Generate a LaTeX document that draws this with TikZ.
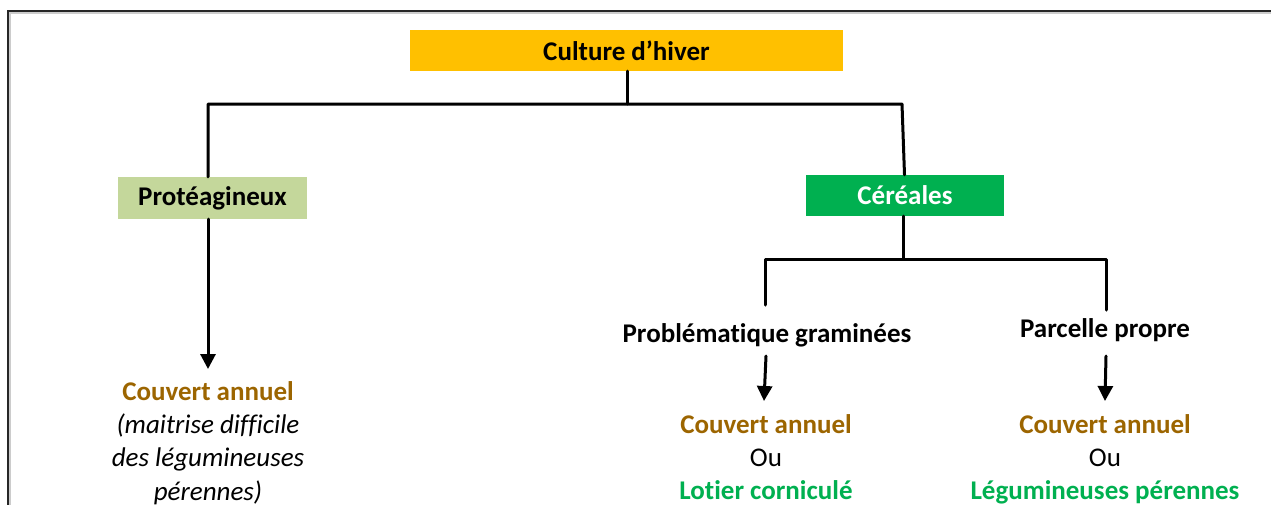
\documentclass[tikz,border=0pt]{standalone}
\usepackage{fontspec}
\setmainfont[Ligatures=NoCommon]{Carlito}
\usetikzlibrary{arrows.meta}
\definecolor{orangebox}{RGB}{255,192,0}
\definecolor{lightgreen}{RGB}{196,215,155}
\definecolor{darkgreen}{RGB}{0,176,80}
\definecolor{brown}{RGB}{156,101,0}
\tikzset{
  conn/.style={line width=3pt, line cap=round, line join=round},
  arr/.style={conn, -{Triangle[length=15pt,width=15pt]}},
  boxnode/.style={inner sep=0pt, font=\fontsize{27}{33.3}\selectfont\bfseries},
  txt/.style={inner sep=0pt, align=center, font=\fontsize{27}{33.3}\selectfont},
}
\begin{document}
\begin{tikzpicture}[x=1pt,y=-1pt]
\useasboundingbox (0,0) rectangle (1271,504);
% frame with light shadow
\draw[gray!40, line width=2pt] (10,506) -- (10,13) -- (1273,13);
\draw[black!85, line width=2pt] (8,506) -- (8,10.5) -- (1273,10.5);

% boxes
\node[boxnode, fill=orangebox, minimum width=433pt, minimum height=41pt] (top) at (626.5,50.5) {Culture d’hiver};
\node[boxnode, fill=lightgreen, minimum width=189pt, minimum height=42pt] (prot) at (212.5,198) {Protéagineux};
\node[boxnode, fill=darkgreen, text=white, minimum width=198pt, minimum height=41pt] (cer) at (905,195.5) {Céréales};

% second level texts
\node[txt, font=\fontsize{27}{33.3}\selectfont\bfseries, anchor=base] (pg) at (767,342) {Problématique graminées};
\node[txt, font=\fontsize{27}{33.3}\selectfont\bfseries, anchor=base] (pp) at (1105,337) {Parcelle propre};

% results
\node[txt, anchor=north] (resL) at (208,381) {\textbf{\textcolor{brown}{Couvert annuel}}\\\textit{(maitrise difficile}\\\textit{des légumineuses}\\\textit{pérennes)}};
\node[txt, anchor=north] (resM) at (766,414) {\textbf{\textcolor{brown}{Couvert annuel}}\\Ou\\\textbf{\textcolor{darkgreen}{Lotier corniculé}}};
\node[txt, anchor=north] (resR) at (1105,414) {\textbf{\textcolor{brown}{Couvert annuel}}\\Ou\\\textbf{\textcolor{darkgreen}{Légumineuses pérennes}}};

% junction coordinates
\coordinate (t1) at (627,104);
\coordinate (hl) at (208,104);
\coordinate (hr) at (902,104);
\coordinate (c1) at (903,259);
\coordinate (cl) at (765,259);
\coordinate (cr) at (1106,259);
\coordinate (pgtop) at (765,305);
\coordinate (pptop) at (1106,310);
\coordinate (pgbot) at (766,356);
\coordinate (ppbot) at (1106,356);
\coordinate (pgtip) at (764,401);
\coordinate (pptip) at (1105,401);
\coordinate (proLtip) at (208,369);

% connectors
\draw[conn] (top.south -| t1) -- (t1);
\draw[conn] (prot.north -| hl) -- (hl) -- (hr) -- (cer.north -| 904.5,0);
\draw[arr] (prot.south -| hl) -- (proLtip);
\draw[conn] (cer.south -| c1) -- (c1);
\draw[conn] (pgtop) -- (cl) -- (cr) -- (pptop);
\draw[arr] (pgbot) -- (pgtip);
\draw[arr] (ppbot) -- (pptip);
\end{tikzpicture}
\end{document}
